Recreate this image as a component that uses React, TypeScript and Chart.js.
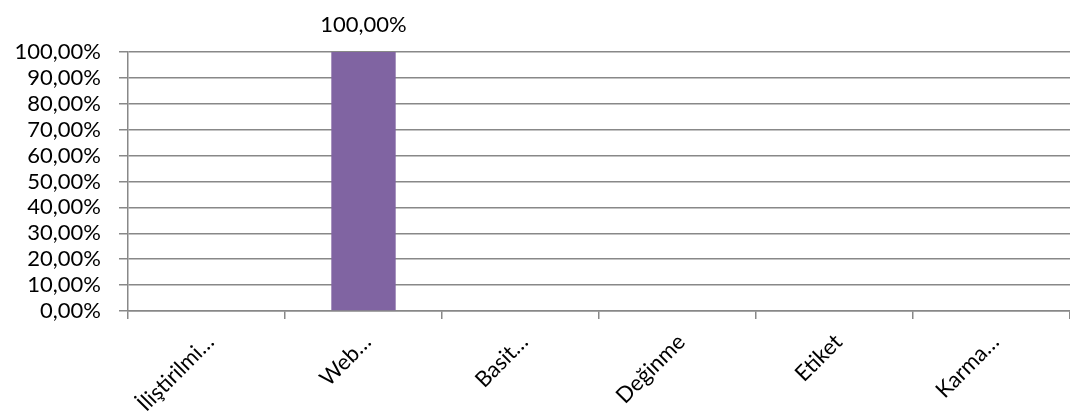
import React, { useEffect, useRef } from "react";
import { Chart, registerables } from "chart.js";

Chart.register(...registerables);

const categories = ["İliştirilmi…", "Web…", "Basit…", "Değinme", "Etiket", "Karma…"];
const values = [0, 100, 0, 0, 0, 0];
const yMin = 0;
const yMax = 100;
const yStep = 10;

const FONT = "Lato, 'Open Sans', sans-serif";
const GRID = "#888888";
const TEXT = "#000000";
const BAR = "#8064A2";

const fmt = (v: number) => v.toFixed(2).replace(".", ",") + "%";

const dataLabels = {
  id: "dataLabels",
  afterDatasetsDraw(chart: any) {
    const ctx = chart.ctx;
    const meta = chart.getDatasetMeta(0);
    ctx.save();
    ctx.font = `22px ${FONT}`;
    ctx.fillStyle = TEXT;
    ctx.textAlign = "center";
    ctx.textBaseline = "middle";
    meta.data.forEach((bar: any, i: number) => {
      const v = values[i];
      if (v > 0) {
        ctx.fillText(fmt(v), bar.x, bar.y - 27);
      }
    });
    ctx.restore();
  },
};

export default function App() {
  const ref = useRef<HTMLCanvasElement>(null);
  useEffect(() => {
    if (!ref.current) return;
    const chart = new Chart(ref.current, {
      type: "bar",
      data: {
        labels: categories,
        datasets: [
          {
            data: values,
            backgroundColor: BAR,
            borderWidth: 0,
            categoryPercentage: 1,
            barPercentage: 0.41,
          },
        ],
      },
      options: {
        animation: false,
        responsive: false,
        maintainAspectRatio: false,
        layout: { autoPadding: false, padding: { top: 52, left: 0, right: 0, bottom: 0 } },
        plugins: { legend: { display: false }, tooltip: { enabled: false } },
        scales: {
          x: {
            grid: {
              display: true,
              drawOnChartArea: false,
              drawTicks: true,
              tickLength: 8,
              color: GRID,
              lineWidth: 1.5,
            },
            border: { display: true, color: GRID, width: 1.5 },
            ticks: {
              color: TEXT,
              font: { family: FONT, size: 22 },
              maxRotation: 45,
              minRotation: 45,
              autoSkip: false,
              padding: 10,
              labelOffset: 4,
            },
            afterFit: (s: any) => {
              s.height = 101;
              s.paddingLeft = 0;
              s.paddingRight = 0;
            },
          },
          y: {
            min: yMin,
            max: yMax,
            ticks: {
              stepSize: yStep,
              autoSkip: false,
              color: TEXT,
              font: { family: FONT, size: 22 },
              padding: 18,
              callback: (v: any) => fmt(Number(v)),
            },
            grid: {
              color: GRID,
              lineWidth: 1.5,
              drawTicks: true,
              tickLength: 9,
            },
            border: { display: true, color: GRID, width: 1.5 },
            afterFit: (s: any) => {
              s.width = 128;
              s.paddingTop = 0;
              s.paddingBottom = 0;
            },
          },
        },
      },
      plugins: [dataLabels],
    });
    return () => chart.destroy();
  }, []);
  return (
    <div style={{ position: "fixed", left: 0, top: 0, width: 1070, height: 412, background: "#fff" }}>
      <canvas ref={ref} width={1070} height={412} style={{ width: 1070, height: 412 }} />
    </div>
  );
}
